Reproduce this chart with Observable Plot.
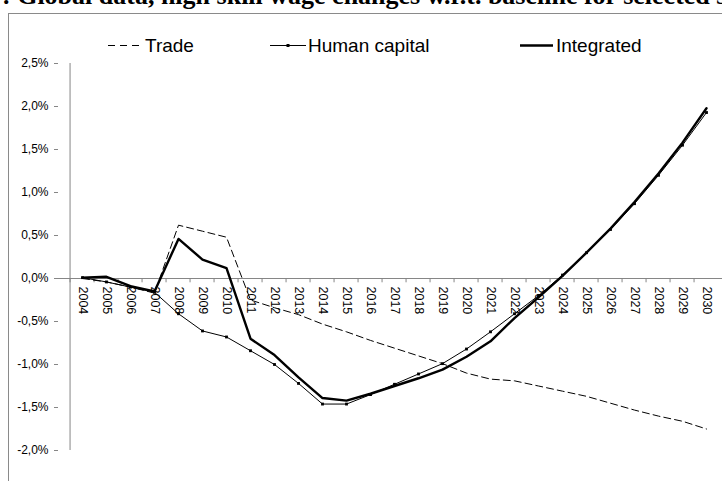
<!DOCTYPE html>
<html>
<head>
<meta charset="utf-8">
<script src="https://cdn.jsdelivr.net/npm/d3@7"></script>
<script src="https://cdn.jsdelivr.net/npm/@observablehq/plot@0.6"></script>
<style>
  html, body { margin: 0; padding: 0; background: #fff; }
  body { width: 722px; height: 481px; overflow: hidden; position: relative; font-family: "Liberation Sans", Arial, sans-serif; }
  #title { position: absolute; left: 2px; top: -17px; font: bold 26px "Liberation Serif", "Times New Roman", serif; line-height: 26px; white-space: nowrap; color: #000; }
  #frame { position: absolute; left: 8px; top: 13px; width: 900px; height: 700px; border: 1px solid #8a8a8a; }
  #chart { position: absolute; left: 0; top: 0; }
  .leg { position: absolute; font-size: 19px; line-height: 22px; color: #000; white-space: nowrap; }
  .legsvg { position: absolute; overflow: visible; }
</style>
</head>
<body>
<div id="title">: Global data, high skill wage changes w.r.t. baseline for selected scenarios</div>
<div id="frame"></div>
<div id="chart"></div>
<svg class="legsvg" style="left:0;top:0" width="722" height="60">
  <line x1="108" x2="141" y1="45.5" y2="45.5" stroke="#000" stroke-width="1" stroke-dasharray="7,5"/>
  <line x1="270" x2="306" y1="45.5" y2="45.5" stroke="#000" stroke-width="1"/>
  <rect x="286.5" y="44" width="3" height="3" fill="#000"/>
  <line x1="520" x2="553" y1="45.5" y2="45.5" stroke="#000" stroke-width="2.4"/>
</svg>
<div class="leg" style="left:145px;top:35px">Trade</div>
<div class="leg" style="left:308px;top:35px">Human capital</div>
<div class="leg" style="left:556px;top:35px">Integrated</div>
<script>
const years = [2004, 2005, 2006, 2007, 2008, 2009, 2010, 2011, 2012, 2013, 2014, 2015, 2016, 2017, 2018, 2019, 2020, 2021, 2022, 2023, 2024, 2025, 2026, 2027, 2028, 2029, 2030];
const trade = [0.00, -0.04, -0.10, -0.17, 0.62, 0.55, 0.48, -0.25, -0.34, -0.42, -0.53, -0.62, -0.72, -0.81, -0.90, -0.99, -1.10, -1.17, -1.19, -1.25, -1.31, -1.37, -1.45, -1.53, -1.60, -1.66, -1.75];
const humanCapital = [0.01, -0.04, -0.10, -0.16, -0.41, -0.61, -0.68, -0.84, -1.00, -1.22, -1.46, -1.46, -1.35, -1.23, -1.11, -0.99, -0.82, -0.62, -0.41, -0.20, 0.04, 0.30, 0.57, 0.87, 1.20, 1.55, 1.93];
const integrated = [0.01, 0.02, -0.09, -0.15, 0.46, 0.22, 0.12, -0.70, -0.89, -1.15, -1.39, -1.42, -1.34, -1.25, -1.16, -1.06, -0.91, -0.73, -0.46, -0.22, 0.03, 0.30, 0.58, 0.89, 1.22, 1.58, 1.98];
const yTicks = [-2.0, -1.5, -1.0, -0.5, 0.0, 0.5, 1.0, 1.5, 2.0, 2.5];

const data = years.map((year, i) => ({year, trade: trade[i], human: humanCapital[i], integrated: integrated[i]}));
const axisGray = "#868686";
const halfStep = (730 - 58) / (years.length) / 2;

const chart = Plot.plot({
  width: 722,
  height: 481,
  marginLeft: 58,
  marginRight: -8,
  marginTop: 63,
  marginBottom: 31,
  x: {type: "point", domain: years, range: [58, 730], padding: 0.5, axis: null},
  y: {domain: [-2, 2.5], range: [450, 63], axis: null},
  style: {fontFamily: "'Liberation Sans', Arial, sans-serif", fontSize: "12px", background: "transparent", overflow: "visible"},
  marks: [
    Plot.axisY(yTicks, {anchor: "left", tickSize: 4, tickPadding: 6, stroke: axisGray, fill: "#000", fontSize: 12,
      tickFormat: d => d.toFixed(1).replace(".", ",") + "%"}),
    Plot.ruleX([years[0]], {y1: -2, y2: 2.5, dx: -halfStep, stroke: axisGray}),
    Plot.ruleY([0], {stroke: axisGray}),
    Plot.ruleX(years, {x: d => d, y1: 0, y2: -0.05, dx: -halfStep, stroke: axisGray}),
    Plot.text(years, {x: d => d, y: 0, text: d => String(d), rotate: 90, textAnchor: "start", dy: 8, fontSize: 12.5, fill: "#000"}),
    Plot.line(data, {x: "year", y: "trade", stroke: "#000", strokeWidth: 1, strokeDasharray: "7,4"}),
    Plot.line(data, {x: "year", y: "human", stroke: "#000", strokeWidth: 1}),
    Plot.line(data, {x: "year", y: "integrated", stroke: "#000", strokeWidth: 2.4}),
    Plot.dot(data, {x: "year", y: "human", symbol: "square", r: 1.6, fill: "#000", stroke: null})
  ]
});
document.getElementById("chart").appendChild(chart);
</script>
</body>
</html>
